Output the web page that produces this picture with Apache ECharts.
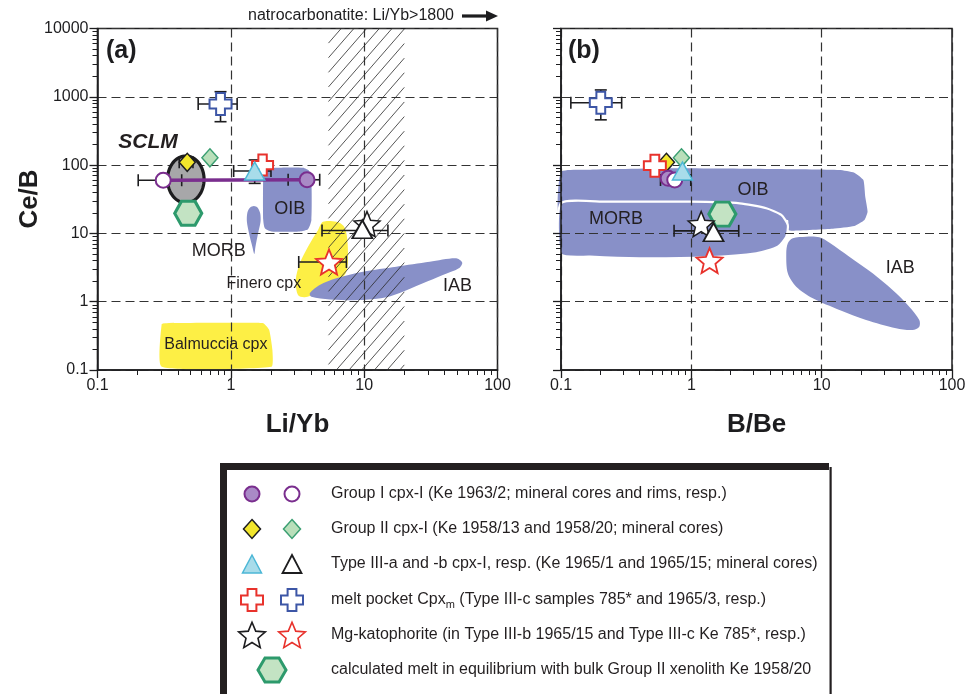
<!DOCTYPE html>
<html><head><meta charset="utf-8">
<script src="https://cdn.jsdelivr.net/npm/echarts@6/dist/echarts.min.js"></script>
<style>html,body{margin:0;padding:0;background:#fff}#c{width:969px;height:694px}</style>
</head><body><div id="c"></div>
<script>
// ================= DATA =================
const xTickLabels = ['0.1', '1', '10', '100'];
const yTickLabels = ['0.1', '1', '10', '100', '1000', '10000'];

// ---- panel (a): Li/Yb vs Ce/B ----
const groupI_core_a   = [[3.73, 61]];
const groupI_rim_a    = [[0.311, 60]];
const groupII_13_a    = [[0.471, 110]];
const groupII_20_a    = [[0.697, 128]];
const typeIIIa_a      = [[1.51, 82]];
const typeIIIb_a      = [[9.69, 11.5]];
const melt785_a       = [[1.73, 100]];
const melt1965_a      = [[0.837, 784]];
const katoIIIb_a      = [[10.5, 13.7]];
const kato785_a       = [[5.45, 3.81]];
const calcMelt_a      = [[0.479, 19.7]];
const groupI_link_a   = [[0.311, 60], [3.73, 61]];
// error bars: [x, y, xLow, xHigh, yLow, yHigh]
const errors_a = [
  [0.837, 784, 0.569, 1.115, 432, 1188],
  [0.311, 60, 0.202, 0.428, 60, 60],
  [3.73, 61, 2.69, 4.64, 61, 61],
  [0.471, 110, 0.41, 0.52, 110, 110],
  [1.51, 82, 1.05, 2.0, 54, 119],
  [9.69, 11, 4.83, 15.07, 11, 11],
  [5.45, 3.81, 3.23, 7.36, 3.81, 3.81]
];
// SCLM field: [cx, cy, xMin, xMax, yMin, yMax]
const sclm_a = [[0.46, 62, 0.335, 0.63, 28, 136]];
// natrocarbonatite hatched band (Li/Yb range)
const hatch_a = [[5.4, 20]];
const OIB_a = [[1.80,86.8],[2.20,91.6],[3.48,91.6],[3.86,82.8],[4.02,60.5],[4.02,15.7],[3.79,11.5],[3.29,10.7],[2.02,10.7],[1.80,11.9],[1.75,15.7],[1.75,67.6]];
const MORB_a = [[1.49,25.2],[1.59,23.8],[1.66,19.7],[1.67,14.8],[1.60,10.0],[1.53,6.4],[1.50,5.0],[1.45,6.4],[1.37,10.0],[1.32,14.8],[1.33,20.1],[1.39,23.8]];
const Finero_a = [[4.91,14.8],[6.19,14.8],[7.02,12.8],[7.43,8.95],[7.56,4.08],[7.27,2.60],[6.19,1.86],[4.39,1.33],[3.58,1.16],[3.19,1.25],[3.07,2.08],[3.29,3.65],[3.79,6.38],[4.51,11.2]];
const IAB_a = [[3.91,1.33],[4.64,1.76],[6.19,2.20],[9.80,2.75],[17.4,3.26],[31.0,3.85],[49.0,4.32],[54.4,3.72],[51.3,3.08],[38.9,2.46],[27.6,1.86],[19.5,1.40],[14.7,1.16],[9.80,1.06],[5.52,1.08],[4.02,1.18]];
const Balmuccia_a = [[0.303,0.47],[0.33,0.485],[1.20,0.49],[1.75,0.483],[1.94,0.386],[2.05,0.196],[2.02,0.112],[0.303,0.112]];
const labelText_a = ['OIB', 'MORB', 'Finero cpx', 'IAB', 'Balmuccia cpx', 'SCLM'];
const labelPos_a  = [[2.77,22.8],[0.813,5.58],[1.767,1.82],[50.1,1.70],[0.772,0.232],[0.239,213]];

// ---- panel (b): B/Be vs Ce/B ----
const groupI_core_b   = [[0.664, 64]];
const groupI_rim_b    = [[0.746, 60.5]];
const groupII_13_b    = [[0.644, 110]];
const groupII_20_b    = [[0.84, 128]];
const typeIIIa_b      = [[0.855, 82]];
const typeIIIb_b      = [[1.48, 10.4]];
const melt785_b       = [[0.525, 98]];
const melt1965_b      = [[0.202, 820]];
const katoIIIb_b      = [[1.19, 13.7]];
const kato785_b       = [[1.38, 4.0]];
const calcMelt_b      = [[1.73, 19.2]];
const errors_b = [
  [0.202, 820, 0.119, 0.292, 460, 1260],
  [0.746, 60.5, 0.58, 0.99, 60.5, 60.5],
  [1.48, 10.9, 0.737, 2.31, 10.9, 10.9]
];
const OIB_b = [[0.1,80],[0.167,85.7],[0.72,89.8],[4.22,87.7],[13.7,84.8],[17.8,77.4],[20.9,60.5],[21.6,34.5],[22.5,20.8],[21.3,15.7],[17.8,12.8],[12.2,11.7],[6.0,10.95],[5.5,11.2],[5.5,15.7],[0.1,15.7]];
const MORB_b = [[0.1,27.6],[0.224,29.1],[0.97,29.1],[2.35,27.6],[3.76,23.3],[4.90,18.6],[5.50,13.3],[5.35,8.95],[4.61,6.38],[3.15,5.11],[1.31,4.47],[0.40,4.32],[0.167,4.56],[0.1,4.94]];
const IAB_b = [[6.0,8.48],[7.6,8.95],[9.6,8.77],[11.5,7.31],[16.3,4.56],[24.6,2.60],[35.0,1.48],[47.0,0.845],[56.1,0.54],[56.1,0.43],[49.8,0.385],[37.2,0.408],[21.9,0.54],[13.7,0.756],[8.55,1.12],[6.38,1.66],[5.5,2.6],[5.35,5.11],[5.5,7.16]];
const labelText_b = ['OIB', 'MORB', 'IAB'];
const labelPos_b  = [[2.968,43.2],[0.2637,16.25],[40.1,3.08]];

// ---- legend ----
const legendTexts = [
  'Group I cpx-I (Ke 1963/2; mineral cores and rims, resp.)',
  'Group II cpx-I (Ke 1958/13 and 1958/20; mineral cores)',
  'Type III-a and -b cpx-I, resp. (Ke 1965/1 and 1965/15; mineral cores)',
  'melt pocket Cpx{sub|m} (Type III-c samples 785* and 1965/3, resp.)',
  'Mg-katophorite (in Type III-b 1965/15 and Type III-c Ke 785*, resp.)',
  'calculated melt in equilibrium with bulk Group II xenolith Ke 1958/20'
];
const topNote = 'natrocarbonatite: Li/Yb>1800';

// ================= STYLE =================
const FONT = '"Liberation Sans", Arial, Helvetica, sans-serif';
const INK = '#1d1d1f';
const PURPLE = '#7a2e8e', PURPLE_FILL = '#a98ac6';
const YELLOW = '#f2e62c';
const GREEN_FILL = '#b9dfba', GREEN_STROKE = '#3b9f72';
const CYAN_FILL = '#a8dcea', CYAN_STROKE = '#4cb7d6';
const RED = '#e8322c', BLUE = '#3d56a6';
const HEX_STROKE = '#2d9a6c', HEX_FILL = '#c3e3c3';
const REGION = '#8890c8', YREGION = '#fdef45';

function starPath() {
  let s = '';
  for (let i = 0; i < 10; i++) {
    const a = -Math.PI / 2 + i * Math.PI / 5;
    const rr = i % 2 === 0 ? 1 : 0.45;
    s += (i === 0 ? 'M' : 'L') + (rr * Math.cos(a)).toFixed(4) + ',' + (rr * Math.sin(a)).toFixed(4) + ' ';
  }
  return 'path://' + s + 'Z';
}
const STAR = starPath();
const CROSS = 'path://M1.5,0 L3.5,0 L3.5,1.5 L5,1.5 L5,3.5 L3.5,3.5 L3.5,5 L1.5,5 L1.5,3.5 L0,3.5 L0,1.5 L1.5,1.5 Z';
const HEX = 'path://M0,0.866 L0.5,0 L1.5,0 L2,0.866 L1.5,1.732 L0.5,1.732 Z';

function sc(data, xi, symbol, size, fill, stroke, bw) {
  return { type: 'scatter', xAxisIndex: xi, yAxisIndex: xi, data: data, symbol: symbol, symbolSize: size,
    z: 10, silent: true, itemStyle: { color: fill, borderColor: stroke, borderWidth: bw, opacity: 1 } };
}
function region(pts, xi, fill, stroke, lw, smooth) {
  return { type: 'custom', xAxisIndex: xi, yAxisIndex: xi, z: 1, silent: true, data: pts,
    renderItem: function (params, api) {
      if (params.dataIndex !== 0) return;
      const p = pts.map(function (d) { return api.coord(d); });
      return { type: 'polygon', shape: { points: p, smooth: smooth }, style: { fill: fill, stroke: stroke || null, lineWidth: lw || 0 } };
    } };
}
function errSeries(data, xi) {
  return { type: 'custom', xAxisIndex: xi, yAxisIndex: xi, z: 6, silent: true, data: data,
    renderItem: function (params, api) {
      const x = api.value(0), y = api.value(1), xl = api.value(2), xh = api.value(3), yl = api.value(4), yh = api.value(5);
      const st = { stroke: INK, lineWidth: 1.6 };
      const cap = 6, ch = [];
      if (xl !== xh) {
        const a = api.coord([xl, y]), b = api.coord([xh, y]);
        ch.push({ type: 'line', shape: { x1: a[0], y1: a[1], x2: b[0], y2: b[1] }, style: st });
        ch.push({ type: 'line', shape: { x1: a[0], y1: a[1] - cap, x2: a[0], y2: a[1] + cap }, style: st });
        ch.push({ type: 'line', shape: { x1: b[0], y1: b[1] - cap, x2: b[0], y2: b[1] + cap }, style: st });
      }
      if (yl !== yh) {
        const a = api.coord([x, yl]), b = api.coord([x, yh]);
        ch.push({ type: 'line', shape: { x1: a[0], y1: a[1], x2: b[0], y2: b[1] }, style: st });
        ch.push({ type: 'line', shape: { x1: a[0] - cap, y1: a[1], x2: a[0] + cap, y2: a[1] }, style: st });
        ch.push({ type: 'line', shape: { x1: b[0] - cap, y1: b[1], x2: b[0] + cap, y2: b[1] }, style: st });
      }
      return { type: 'group', children: ch };
    } };
}
function labelSeries(pos, texts, xi) {
  return { type: 'custom', xAxisIndex: xi, yAxisIndex: xi, z: 8, silent: true, data: pos,
    renderItem: function (params, api) {
      const p = api.coord([api.value(0), api.value(1)]);
      const t = texts[params.dataIndex];
      let font = '18px ' + FONT;
      if (t.indexOf('cpx') >= 0) font = '16px ' + FONT;
      if (t === 'SCLM') font = 'italic bold 21px ' + FONT;
      return { type: 'text', x: p[0], y: p[1], style: { text: t, font: font, fill: '#231f20', align: 'center', verticalAlign: 'middle' } };
    } };
}

const axisCommon = {
  type: 'log', logBase: 10, z: 3,
  axisLine: { show: true, onZero: false, lineStyle: { color: INK, width: 1.5 } },
  axisTick: { show: true, inside: false, length: 8, lineStyle: { color: INK, width: 1.3 } },
  minorTick: { show: true, splitNumber: 9, length: 5, lineStyle: { color: INK, width: 1 } },
  splitLine: { show: true, lineStyle: { color: '#333', width: 1.2, type: [9, 5] } },
  minorSplitLine: { show: false },
  axisLabel: { fontSize: 16, color: INK, fontFamily: FONT }
};
function xAx(gi) {
  return Object.assign({}, axisCommon, { gridIndex: gi, min: 0.1, max: 100, splitNumber: 3,
    axisLabel: Object.assign({}, axisCommon.axisLabel, { margin: 8,
      formatter: function (v) { const i = Math.round(Math.log10(v)) + 1; return xTickLabels[i] || ''; } }) });
}
function yAx(gi, show) {
  return Object.assign({}, axisCommon, { gridIndex: gi, min: 0.1, max: 10000, splitNumber: 5,
    axisLabel: Object.assign({}, axisCommon.axisLabel, { show: show, margin: 9,
      formatter: function (v) { const i = Math.round(Math.log10(v)) + 1; return yTickLabels[i] || ''; } }) });
}

const hatchSeries = { type: 'custom', xAxisIndex: 0, yAxisIndex: 0, z: 4, silent: true, data: hatch_a,
  renderItem: function (params, api) {
    const cs = params.coordSys;
    const x0 = api.coord([api.value(0), 1])[0], x1 = api.coord([api.value(1), 1])[0];
    const top = cs.y, bottom = cs.y + cs.height, H = bottom - top, m = 1.15, step = 12.7;
    const ch = [];
    for (let c = x0 - H / m; c < x1; c += step) {
      const tmin = Math.max(0, x0 - c), tmax = Math.min(x1 - c, H / m);
      if (tmax > tmin) ch.push({ type: 'line', shape: { x1: c + tmin, y1: bottom - m * tmin, x2: c + tmax, y2: bottom - m * tmax },
        style: { stroke: '#2a2a2a', lineWidth: 0.8 } });
    }
    return { type: 'group', children: ch };
  } };

const sclmSeries = { type: 'custom', xAxisIndex: 0, yAxisIndex: 0, z: 5, silent: true, data: sclm_a,
  renderItem: function (params, api) {
    const l = api.coord([api.value(2), api.value(1)]), r = api.coord([api.value(3), api.value(1)]);
    const b = api.coord([api.value(0), api.value(4)]), t = api.coord([api.value(0), api.value(5)]);
    const cx = (l[0] + r[0]) / 2, cy = (t[1] + b[1]) / 2, rx = (r[0] - l[0]) / 2, ry = (b[1] - t[1]) / 2;
    const pts = [];
    for (let i = 0; i < 72; i++) { const a = i / 72 * Math.PI * 2; pts.push([cx + rx * Math.cos(a), cy + ry * Math.sin(a)]); }
    return { type: 'polygon', shape: { points: pts }, style: { fill: '#a7a7a9', stroke: INK, lineWidth: 3.2 } };
  } };

const series = [
  // panel (a) regions
  region(Balmuccia_a, 0, YREGION, null, 0, 0.15),
  region(Finero_a, 0, YREGION, null, 0, 0.3),
  region(OIB_a, 0, REGION, null, 0, 0.2),
  region(MORB_a, 0, REGION, null, 0, 0.3),
  region(IAB_a, 0, REGION, null, 0, 0.3),
  hatchSeries,
  sclmSeries,
  labelSeries(labelPos_a, labelText_a, 0),
  errSeries(errors_a, 0),
  { type: 'line', xAxisIndex: 0, yAxisIndex: 0, data: groupI_link_a, z: 7, silent: true, symbol: 'none',
    lineStyle: { color: PURPLE, width: 3.5 } },
  sc(groupI_rim_a, 0, 'circle', 15, '#fff', PURPLE, 2),
  sc(groupI_core_a, 0, 'circle', 15, PURPLE_FILL, PURPLE, 2),
  sc(groupII_13_a, 0, 'diamond', [16, 18], YELLOW, INK, 1.5),
  sc(groupII_20_a, 0, 'diamond', [16, 18], GREEN_FILL, GREEN_STROKE, 1.5),
  sc(calcMelt_a, 0, HEX, [27, 24], HEX_FILL, HEX_STROKE, 3),
  sc(melt785_a, 0, CROSS, 21, '#fff', RED, 2),
  sc(typeIIIa_a, 0, 'triangle', [20, 18], CYAN_FILL, CYAN_STROKE, 1.5),
  sc(melt1965_a, 0, CROSS, 22, '#fff', BLUE, 2),
  sc(katoIIIb_a, 0, STAR, [26, 25], '#fff', INK, 1.5),
  sc(typeIIIb_a, 0, 'triangle', [20, 18], '#fff', INK, 1.8),
  sc(kato785_a, 0, STAR, [26, 25], '#fff', RED, 1.8),
  // panel (b) regions
  region(OIB_b, 1, REGION, null, 0, 0.15),
  region(MORB_b, 1, REGION, '#ffffff', 2.2, 0.2),
  region(IAB_b, 1, REGION, null, 0, 0.3),
  labelSeries(labelPos_b, labelText_b, 1),
  errSeries(errors_b, 1),
  sc(groupII_13_b, 1, 'diamond', [16, 18], YELLOW, INK, 1.5),
  sc(melt785_b, 1, CROSS, 22, '#fff', RED, 2),
  sc(groupII_20_b, 1, 'diamond', [16, 18], GREEN_FILL, GREEN_STROKE, 1.5),
  sc(groupI_core_b, 1, 'circle', 15, PURPLE_FILL, PURPLE, 2),
  sc(groupI_rim_b, 1, 'circle', 15, '#fff', PURPLE, 2),
  sc(typeIIIa_b, 1, 'triangle', [20, 18], CYAN_FILL, CYAN_STROKE, 1.5),
  sc(calcMelt_b, 1, HEX, [27, 24], HEX_FILL, HEX_STROKE, 3),
  sc(katoIIIb_b, 1, STAR, [26, 25], '#fff', INK, 1.5),
  sc(typeIIIb_b, 1, 'triangle', [20, 18], '#fff', INK, 1.8),
  sc(kato785_b, 1, STAR, [26, 25], '#fff', RED, 1.8),
  sc(melt1965_b, 1, CROSS, 22, '#fff', BLUE, 2)
];

// ---------- legend (graphic) ----------
function starPts(cx, cy, R) { const p = []; for (let i = 0; i < 10; i++) { const a = -Math.PI / 2 + i * Math.PI / 5, r = i % 2 ? R * 0.45 : R; p.push([cx + r * Math.cos(a), cy + r * Math.sin(a) + R * 0.09]); } return p; }
function crossPts(cx, cy, s) { const u = s / 5, x = cx - s / 2, y = cy - s / 2;
  return [[1.5,0],[3.5,0],[3.5,1.5],[5,1.5],[5,3.5],[3.5,3.5],[3.5,5],[1.5,5],[1.5,3.5],[0,3.5],[0,1.5],[1.5,1.5]].map(function (q) { return [x + q[0] * u, y + q[1] * u]; }); }
function diaPts(cx, cy, w, h) { return [[cx, cy - h / 2], [cx + w / 2, cy], [cx, cy + h / 2], [cx - w / 2, cy]]; }
function triPts(cx, cy, w, h) { return [[cx, cy - h / 2], [cx + w / 2, cy + h / 2], [cx - w / 2, cy + h / 2]]; }
function hexPts(cx, cy, w, h) { return [[cx - w / 2, cy], [cx - w / 4, cy - h / 2], [cx + w / 4, cy - h / 2], [cx + w / 2, cy], [cx + w / 4, cy + h / 2], [cx - w / 4, cy + h / 2]]; }
function poly(pts, fill, stroke, lw) { return { type: 'polygon', shape: { points: pts }, style: { fill: fill, stroke: stroke, lineWidth: lw }, silent: true }; }

const rowY = [494, 529, 564, 600, 635, 670];
const c1 = 252, c2 = 292, cH = 272, tx = 331;
const g = [];
// frame
g.push({ type: 'rect', shape: { x: 220, y: 463, width: 609, height: 7 }, style: { fill: '#231f20' } });
g.push({ type: 'rect', shape: { x: 220, y: 463, width: 7, height: 240 }, style: { fill: '#231f20' } });
g.push({ type: 'rect', shape: { x: 829.5, y: 467, width: 2.2, height: 240 }, style: { fill: '#231f20' } });
// symbols
g.push({ type: 'circle', shape: { cx: c1, cy: rowY[0], r: 7.5 }, style: { fill: PURPLE_FILL, stroke: PURPLE, lineWidth: 2 } });
g.push({ type: 'circle', shape: { cx: c2, cy: rowY[0], r: 7.5 }, style: { fill: '#fff', stroke: PURPLE, lineWidth: 2 } });
g.push(poly(diaPts(c1, rowY[1], 17, 19), YELLOW, INK, 1.5));
g.push(poly(diaPts(c2, rowY[1], 17, 19), GREEN_FILL, GREEN_STROKE, 1.5));
g.push(poly(triPts(c1, rowY[2], 19, 18), CYAN_FILL, CYAN_STROKE, 1.5));
g.push(poly(triPts(c2, rowY[2], 19, 18), '#fff', INK, 1.8));
g.push(poly(crossPts(c1, rowY[3], 22), '#fff', RED, 2));
g.push(poly(crossPts(c2, rowY[3], 22), '#fff', BLUE, 2));
g.push(poly(starPts(c1, rowY[4], 14), '#fff', INK, 1.6));
g.push(poly(starPts(c2, rowY[4], 14), '#fff', RED, 1.6));
g.push(poly(hexPts(cH, rowY[5], 28, 24), HEX_FILL, HEX_STROKE, 3));
legendTexts.forEach(function (t, i) {
  g.push({ type: 'text', x: tx, y: rowY[i], silent: true,
    style: { text: t, font: '16px ' + FONT, fill: '#231f20', align: 'left', verticalAlign: 'middle', lineHeight: 20,
      rich: { sub: { fontSize: 11, fontFamily: FONT, fill: '#231f20', verticalAlign: 'bottom', lineHeight: 13 } } } });
});
// panel labels, axis titles, top note
g.push({ type: 'text', x: 106, y: 51, style: { text: '(a)', font: 'bold 25px ' + FONT, fill: INK, align: 'left', verticalAlign: 'middle' } });
g.push({ type: 'text', x: 568, y: 51, style: { text: '(b)', font: 'bold 25px ' + FONT, fill: INK, align: 'left', verticalAlign: 'middle' } });
g.push({ type: 'text', x: 297.5, y: 425, style: { text: 'Li/Yb', font: 'bold 26px ' + FONT, fill: INK, align: 'center', verticalAlign: 'middle' } });
g.push({ type: 'text', x: 756.5, y: 425, style: { text: 'B/Be', font: 'bold 26px ' + FONT, fill: INK, align: 'center', verticalAlign: 'middle' } });
g.push({ type: 'text', x: 30, y: 199, rotation: Math.PI / 2, style: { text: 'Ce/B', font: 'bold 26px ' + FONT, fill: INK, align: 'center', verticalAlign: 'middle' } });
g.push({ type: 'text', x: 454, y: 16, style: { text: topNote, font: '16px ' + FONT, fill: INK, align: 'right', verticalAlign: 'middle' } });
g.push({ type: 'line', shape: { x1: 462, y1: 16, x2: 488, y2: 16 }, style: { stroke: INK, lineWidth: 3.2 } });
g.push({ type: 'polygon', shape: { points: [[486, 10.5], [498, 16], [486, 21.5]] }, style: { fill: INK } });

const option = {
  animation: false,
  backgroundColor: '#fff',
  grid: [
    { left: 97.5, top: 28.5, width: 400, height: 341.5, show: true, borderColor: INK, borderWidth: 1.5, backgroundColor: 'transparent' },
    { left: 561, top: 28.5, width: 391, height: 341.5, show: true, borderColor: INK, borderWidth: 1.5, backgroundColor: 'transparent' }
  ],
  xAxis: [xAx(0), xAx(1)],
  yAxis: [yAx(0, true), yAx(1, false)],
  series: series,
  graphic: { elements: g }
};
const chart = echarts.init(document.getElementById('c'));
chart.setOption(option);
</script>
</body></html>
